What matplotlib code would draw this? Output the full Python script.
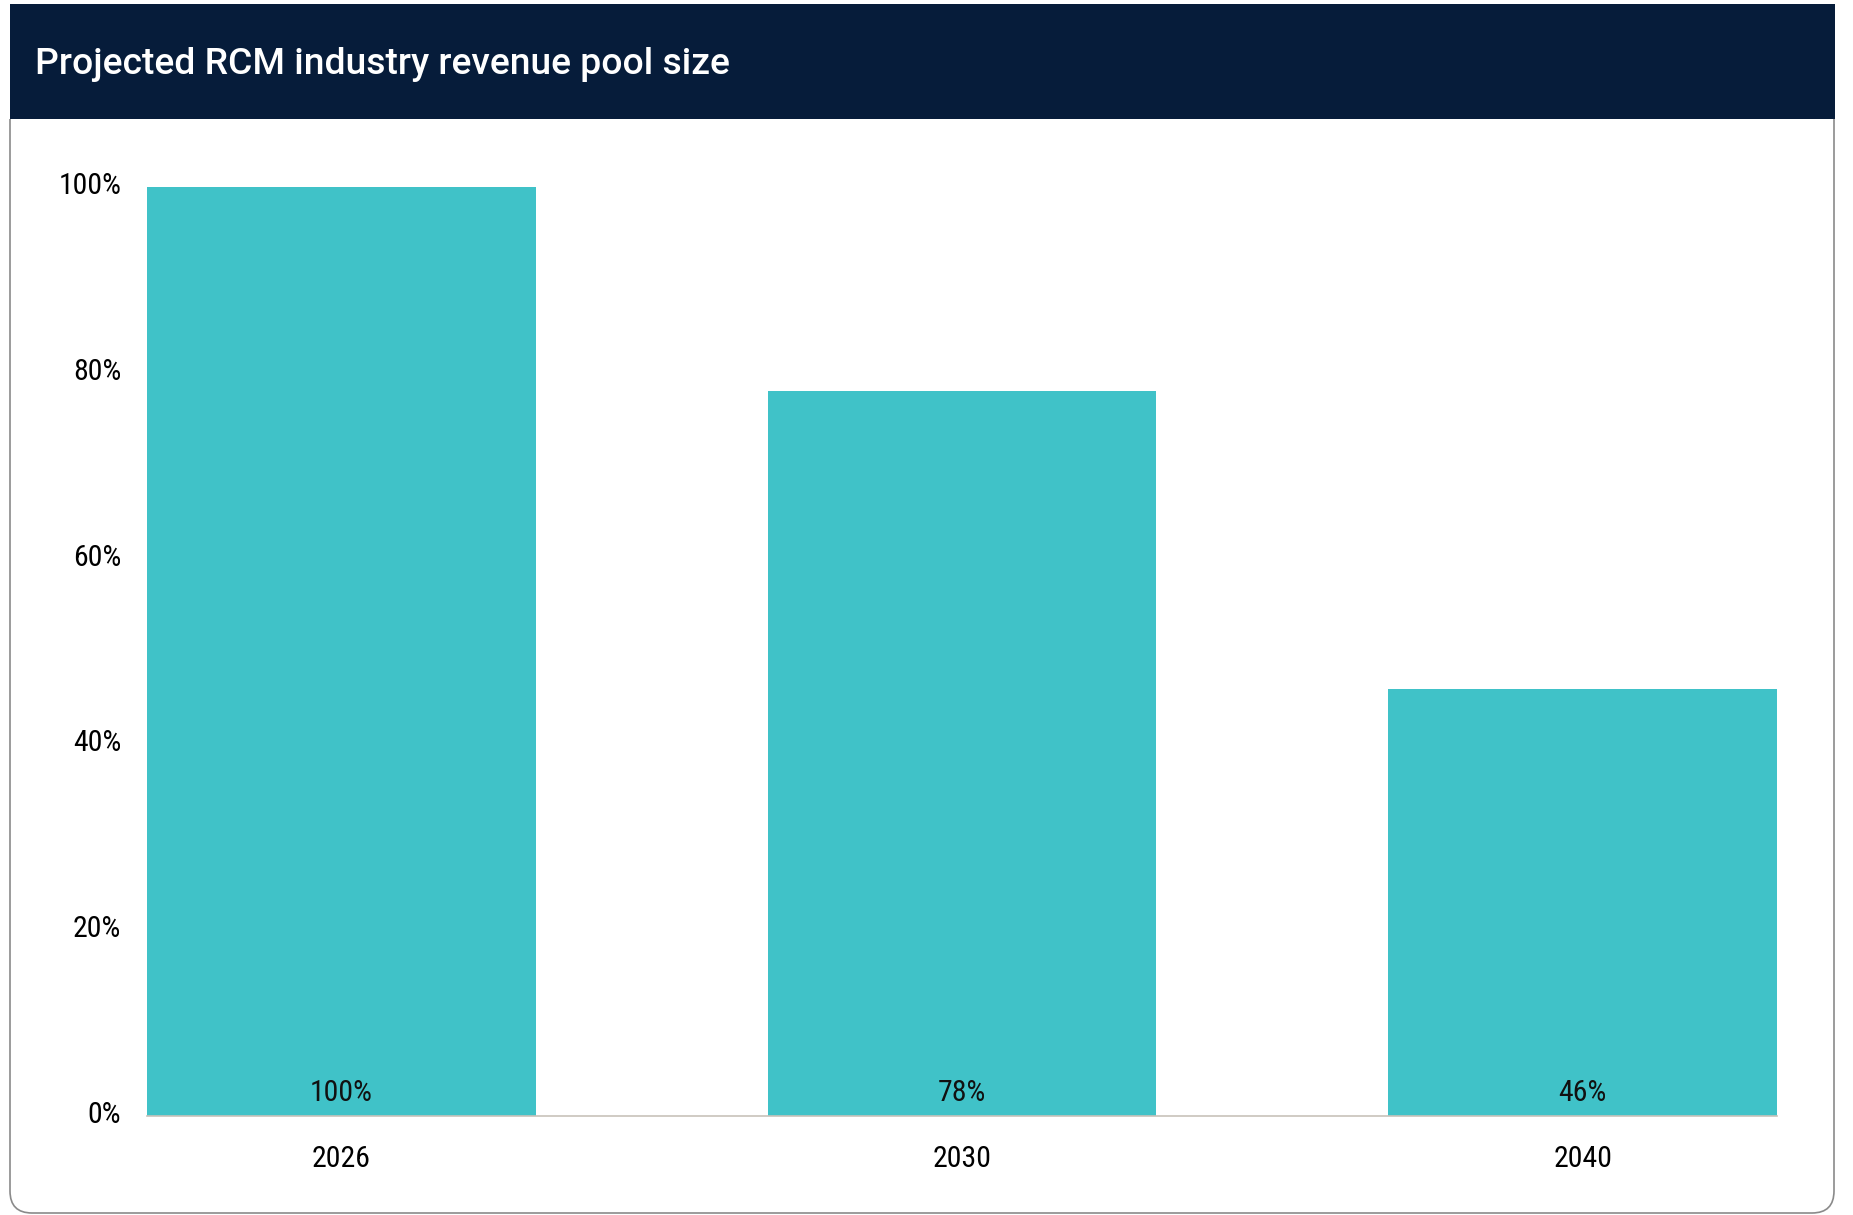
import matplotlib
matplotlib.use('Agg')
import matplotlib.pyplot as plt
import matplotlib.transforms as mtransforms
from matplotlib.patches import Rectangle, PathPatch
from matplotlib.path import Path
from matplotlib import font_manager

# data
years = ['2026', '2030', '2040']
pool_size = [100, 78, 46]
y_ticks = [0, 20, 40, 60, 80, 100]

W, H = 1853, 1215
fig = plt.figure(figsize=(W / 100, H / 100), dpi=100)

names = {f.name for f in font_manager.fontManager.ttflist}
if 'Roboto Condensed' in names:
    cond = dict(family='Roboto Condensed')
elif 'Liberation Sans Narrow' in names:
    cond = dict(family='Liberation Sans Narrow')
else:
    cond = dict(family='DejaVu Sans', stretch='condensed')

# pixel coords, y measured from the top
px = mtransforms.Affine2D().scale(1 / W, -1 / H).translate(0, 1) + fig.transFigure

# header band
fig.patches.append(Rectangle((10, 4), 1825, 115, transform=px,
                             facecolor='#061c3a', edgecolor='none'))
fig.text(35, 64, 'Projected RCM industry revenue pool size', transform=px,
         color='white', fontsize=26.8, family='Roboto', weight='medium',
         va='center', ha='left')

# panel border with rounded bottom corners
r = 22
verts = [(10, 119), (10, 1213 - r), (10, 1213), (10 + r, 1213),
         (1834 - r, 1213), (1834, 1213), (1834, 1213 - r), (1834, 119)]
codes = [Path.MOVETO, Path.LINETO, Path.CURVE3, Path.CURVE3,
         Path.LINETO, Path.CURVE3, Path.CURVE3, Path.LINETO]
fig.patches.append(PathPatch(Path(verts, codes), transform=px, fill=False,
                             edgecolor='#8a8a8a', linewidth=1.2))

# axes
left, right, top, bottom = 147, 1777, 187, 1116
ax = fig.add_axes([left / W, 1 - bottom / H, (right - left) / W, (bottom - top) / H])
w = 0.626
x = range(len(years))
bars = ax.bar(x, pool_size, width=w, color='#40c2c8')
ax.set_xlim(-w / 2, len(years) - 1 + w / 2)
ax.set_ylim(0, 100)

for s in ['top', 'right', 'left']:
    ax.spines[s].set_visible(False)
ax.spines['bottom'].set_color('#c8c2ba')
ax.spines['bottom'].set_linewidth(1.2)

ax.set_yticks(y_ticks)
ax.set_yticklabels([f'{v}%' for v in y_ticks], fontsize=21.5, **cond)
ax.set_xticks(list(x))
ax.set_xticklabels(years, fontsize=21.5, **cond)
ax.tick_params(axis='both', length=0)
ax.tick_params(axis='y', pad=18.5)
ax.tick_params(axis='x', pad=21)
shift = mtransforms.ScaledTranslation(0, 4 / 100, fig.dpi_scale_trans)
for lab in ax.get_yticklabels():
    lab.set_transform(lab.get_transform() + shift)

for xi, v in zip(x, pool_size):
    ax.text(xi, 1.0, f'{v}%', ha='center', va='bottom', fontsize=21.5,
            color='#111111', **cond)

fig.savefig('out.png', dpi=100)
